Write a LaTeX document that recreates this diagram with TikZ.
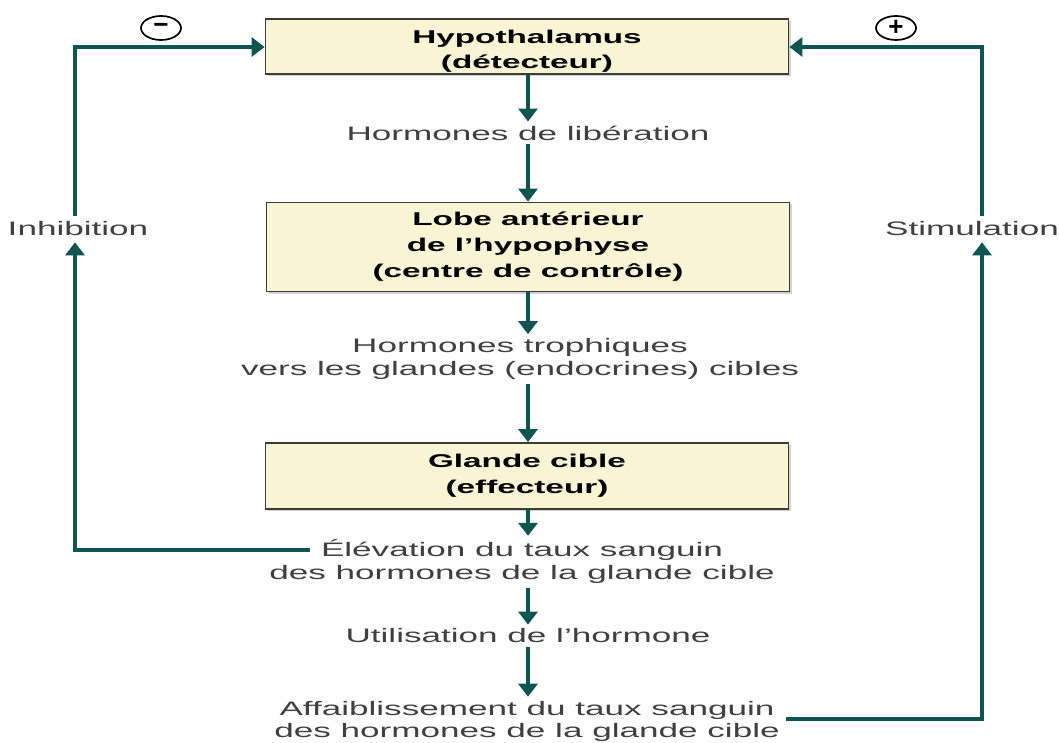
\documentclass[tikz,border=0pt]{standalone}
\usepackage{fontspec}
\setmainfont{Liberation Sans}[FakeStretch=1.8]
\newfontfamily\symfont{Liberation Sans}
\usetikzlibrary{arrows.meta,shadows,shapes.geometric}
\definecolor{arrowcol}{HTML}{0F5552}
\definecolor{boxfill}{HTML}{F8F4D4}
\definecolor{boxborder}{HTML}{3E3E38}
\definecolor{textgray}{HTML}{404040}
\begin{document}
\begin{tikzpicture}[x=1pt,y=-1pt,
  box/.style={draw=boxborder, line width=1.8pt, fill=boxfill, minimum width=523pt,
    align=center, text=black,
    drop shadow={shadow xshift=2pt, shadow yshift=-2pt, opacity=0.35}},
  boxtext/.style={align=center, text=black, inner sep=0pt},
  lbl/.style={align=center, font=\fontsize{19.5}{23}\selectfont, text=textgray, inner sep=4pt},
  side/.style={font=\fontsize{19.5}{23}\selectfont, text=textgray, inner sep=6pt},
  arr/.style={draw=arrowcol, line width=4pt, -{Triangle[width=19pt,length=13pt]}},
  sign/.style={ellipse, draw=black, line width=1.7pt, minimum width=40pt, minimum height=24pt, inner sep=0pt,
    font=\symfont\bfseries\fontsize{26}{26}\selectfont},
]
\useasboundingbox (0,0) rectangle (1059,743);

% boxes
\node[box, minimum height=55pt] (hypo) at (527,46.5) {};
\node[boxtext, font=\bfseries\fontsize{18.5}{24.5}\selectfont] (hypotext) at (527,51) {Hypothalamus\\(détecteur)};
\node[box, minimum height=89pt, font=\bfseries\fontsize{18.5}{26}\selectfont] (lobe) at (528,247) {Lobe antérieur\\de l’hypophyse\\(centre de contrôle)};
\node[box, minimum height=66pt, font=\bfseries\fontsize{18.5}{26}\selectfont] (glande) at (527,476) {Glande cible\\(effecteur)};

% texts
\node[lbl] (lib) at (528,133) {Hormones de libération};
\node[lbl] (troph) at (520,359) {Hormones trophiques\\vers les glandes (endocrines) cibles};
\node[lbl] (elev) at (522,562) {Élévation du taux sanguin\\des hormones de la glande cible};
\node[lbl] (util) at (528,636) {Utilisation de l’hormone};
\node[lbl, font=\fontsize{19.5}{22}\selectfont] (affai) at (527,721) {Affaiblissement du taux sanguin\\des hormones de la glande cible};

\node[side] (inhib) at (78,229) {Inhibition};
\node[side] (stim) at (972,229) {Stimulation};

\node[sign] (minus) at (161,28) {\raisebox{-2pt}{−}};
\node[sign] (plus) at (896,28) {+};

% corner coordinates
\coordinate (L) at (75,47);
\coordinate (R) at (982,47);
\coordinate (elevL) at (310,550);
\coordinate (affR) at (786,719);

% main chain
\draw[arr] (hypo.south -| lib.north) -- (lib.north);
\draw[arr] (lib.south) -- (lobe.north -| lib.south);
\draw[arr] (lobe.south -| lib.north) -- (troph.north -| lib.north);
\draw[arr] (troph.south -| lib.north) -- (glande.north -| lib.north);
\draw[arr] (glande.south -| lib.north) -- (elev.north -| lib.north);
\draw[arr] (elev.south -| lib.north) -- (util.north);
\draw[arr] (util.south) -- (affai.north -| util.south);

% feedback loops
\draw[arr] (elevL) -| (L |- inhib.south);
\draw[arr] (L |- inhib.north) -- (L) -- (hypo.west |- L);
\draw[arr] (affR) -| (R |- stim.south);
\draw[arr] (R |- stim.north) -- (R) -- (hypo.east |- R);
\end{tikzpicture}
\end{document}
